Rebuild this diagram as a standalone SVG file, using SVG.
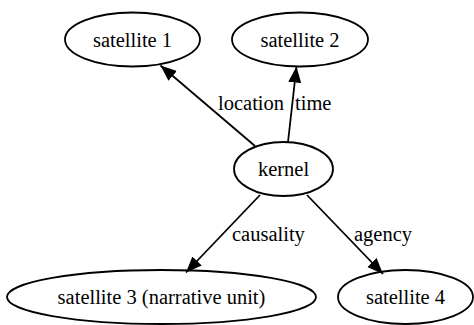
<svg xmlns="http://www.w3.org/2000/svg" width="474" height="325" viewBox="0 0 474 325">
<style>
.node ellipse{fill:none;stroke:#000;stroke-width:1.8}
text{font-family:"Liberation Serif","Times New Roman",serif;font-size:20.5px;fill:#000}
.node text{text-anchor:middle}
.edge line{stroke:#000;stroke-width:1.8;marker-end:url(#ah)}
</style>
<defs>
<marker id="ah" markerUnits="userSpaceOnUse" markerWidth="17" markerHeight="14" refX="16" refY="6.5" orient="auto">
<path d="M0,0 L16,6.5 L0,13 z" fill="#000"/>
</marker>
</defs>
<rect width="474" height="325" fill="#fff"/>
<g id="edges" class="edge">
<line x1="255" y1="146" x2="160.5" y2="65.5"/>
<line x1="288" y1="142" x2="296.5" y2="66.5"/>
<line x1="260" y1="195" x2="186" y2="272.5"/>
<line x1="307" y1="195" x2="383" y2="274"/>
<text x="218" y="110">location</text>
<text x="295" y="110">time</text>
<text x="232" y="241">causality</text>
<text x="354" y="241">agency</text>
</g>
<g id="satellite1" class="node"><ellipse cx="132.5" cy="39.5" rx="67.5" ry="27"/><text x="132.5" y="46.5">satellite 1</text></g>
<g id="satellite2" class="node"><ellipse cx="300" cy="39.5" rx="68" ry="27"/><text x="300" y="46.5">satellite 2</text></g>
<g id="kernel" class="node"><ellipse cx="283.5" cy="169" rx="49.5" ry="27"/><text x="283.5" y="176">kernel</text></g>
<g id="satellite3" class="node"><ellipse cx="161.5" cy="297" rx="154.5" ry="27"/><text x="161.5" y="304">satellite 3 (narrative unit)</text></g>
<g id="satellite4" class="node"><ellipse cx="405.5" cy="297" rx="67.5" ry="27"/><text x="405.5" y="304">satellite 4</text></g>
</svg>
